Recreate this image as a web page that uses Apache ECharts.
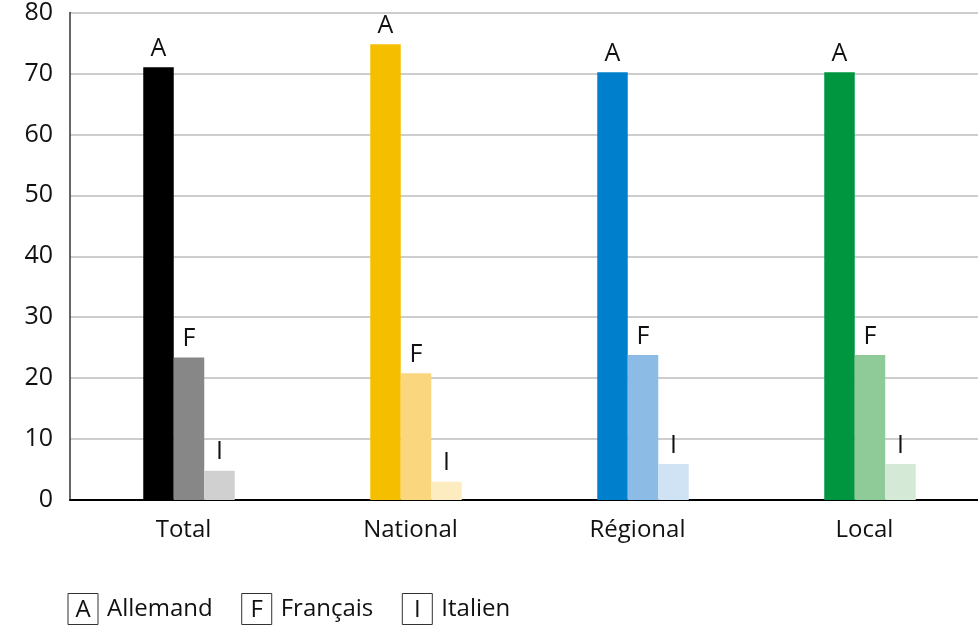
<!DOCTYPE html>
<html><head><meta charset="utf-8">
<script src="https://cdn.jsdelivr.net/npm/echarts@6/dist/echarts.min.js"></script>
<style>html,body{margin:0;padding:0;background:#fff}#c{width:978px;height:627px}</style>
</head><body><div id="c"></div>
<script>
const categories = ['Total', 'National', 'Régional', 'Local'];
const seriesNames = ['Allemand', 'Français', 'Italien'];
const seriesLetters = ['A', 'F', 'I'];
const allemand = [71, 74.8, 70.2, 70.2];
const francais = [23.4, 20.8, 23.8, 23.8];
const italien = [4.8, 3.0, 5.9, 5.9];
const yTicks = [0, 10, 20, 30, 40, 50, 60, 70, 80];

const palette = [
  ['#000000', '#f5bf00', '#0080cc', '#00953f'],
  ['#878787', '#fad67f', '#8cbbe6', '#8fca99'],
  ['#d0d0d0', '#fdecc0', '#d0e3f4', '#d4ead7']
];
const values = [allemand, francais, italien];
const FONT = 'Open Sans';

const barSeries = values.map(function (arr, s) {
  return {
    name: seriesNames[s], type: 'bar', barWidth: 30.5, barGap: '0%',
    data: arr.map(function (v, c) { return {value: v, itemStyle: {color: palette[s][c]}}; }),
    label: {show: true, position: 'top', distance: 6, formatter: seriesLetters[s],
      fontFamily: FONT, fontSize: 25, color: '#111'}
  };
});
// empty spacer series that nudges the bar groups slightly to the right, as in the original
const spacer = {name: 'spacer', type: 'bar', barWidth: 11, barGap: '0%', silent: true,
  data: categories.map(function () { return null; }), itemStyle: {opacity: 0}};

const chart = echarts.init(document.getElementById('c'), null, {renderer: 'canvas'});
chart.setOption({
  animation: false,
  grid: {left: 70, right: 0, top: 12, bottom: 127, containLabel: false},
  xAxis: {
    type: 'category', data: categories,
    axisLine: {lineStyle: {color: '#000', width: 2}},
    axisTick: {show: false},
    axisLabel: {color: '#111', fontFamily: FONT, fontSize: 24, margin: 18}
  },
  yAxis: {
    type: 'value', min: yTicks[0], max: yTicks[yTicks.length - 1], interval: 10,
    axisLine: {show: true, lineStyle: {color: '#333', width: 1.5}},
    axisTick: {show: false},
    splitLine: {lineStyle: {color: '#bdbdbd', width: 1.5}},
    axisLabel: {color: '#111', fontFamily: FONT, fontSize: 25, margin: 17}
  },
  legend: {
    left: 58, bottom: -3, itemGap: 24, icon: 'none', itemWidth: 0, itemHeight: 0,
    data: seriesNames,
    formatter: function (name) {
      const i = seriesNames.indexOf(name);
      return '{box|' + seriesLetters[i] + '}{t|' + name + '}';
    },
    textStyle: {
      fontFamily: FONT, fontSize: 24, color: '#111',
      rich: {
        box: {fontFamily: FONT, fontSize: 24, color: '#111', borderColor: '#333', borderWidth: 1, padding: [5, 7, 2, 7], align: 'center', width: 16},
        t: {fontFamily: FONT, fontSize: 24, color: '#111', padding: [0, 0, 0, 9]}
      }
    }
  },
  series: [spacer].concat(barSeries)
});
</script></body></html>
